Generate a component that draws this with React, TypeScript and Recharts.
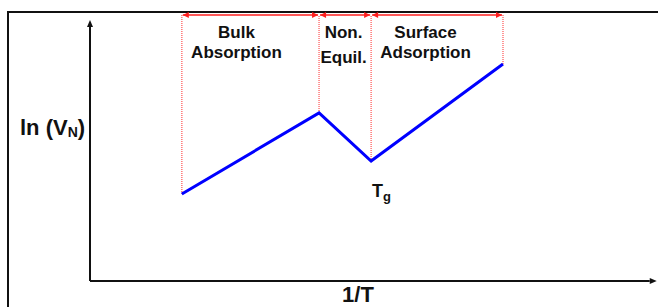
import React from "react";
import {
  ComposedChart, Line, XAxis, YAxis, ReferenceLine, ReferenceDot,
} from "recharts";

/* ─── Data ─────────────────────────────────── */
// 1/T positions of the break points, and ln(VN) at each
const invT = [16.4, 40.9, 50.2, 73.75];
const lnVN = [32.7, 63.2, 45.1, 81.6];

// region names between the break points (two lines each)
const regionTop = ["Bulk", "Non.", "Surface"];
const regionBottom = ["Absorption", "Equil.", "Adsorption"];

// axis arrow ends and height of the region arrows, in data units
const AXIS_X_END = 101.2;
const AXIS_Y_END = 98.1;
const REGION_Y = 100;

const points = invT.map((x, i) => ({ x, y: lnVN[i] }));

/* ─── Styles ───────────────────────────────── */
const FONT = "'Liberation Sans', Arial, sans-serif";
const RED = "#ff2020";
const RED_DOT = "#ff6a6a";
const LABEL_DX = [-14, -1.5, -11.5];
const LABEL_GAP = [20, 25, 20];

/* ─── Shapes ───────────────────────────────── */
type Seg = { x1?: number; y1?: number; x2?: number; y2?: number };

const AxisArrow = ({ x1 = 0, y1 = 0, x2 = 0, y2 = 0 }: Seg) => {
  const dx = x2 - x1, dy = y2 - y1;
  const len = Math.hypot(dx, dy) || 1;
  const ux = dx / len, uy = dy / len;
  const L = 7, W = 3;
  const bx = x2 - ux * L, by = y2 - uy * L;
  return (
    <g>
      <line x1={x1} y1={y1} x2={bx} y2={by} stroke="#111" strokeWidth={2} />
      <polygon
        points={`${x2},${y2} ${bx - uy * W},${by + ux * W} ${bx + uy * W},${by - ux * W}`}
        fill="#111"
      />
    </g>
  );
};

const RegionArrow = ({ x1 = 0, y1 = 0, x2 = 0, idx }: Seg & { idx: number }) => {
  const L = 6, W = 3;
  const cx = (x1 + x2) / 2 + LABEL_DX[idx];
  return (
    <g>
      <line x1={x1 + 1} y1={y1} x2={x2 - 1} y2={y1} stroke={RED} strokeWidth={1.5} />
      <polygon points={`${x1 + 1},${y1} ${x1 + 1 + L},${y1 - W} ${x1 + 1 + L},${y1 + W}`} fill={RED} />
      <polygon points={`${x2 - 1},${y1} ${x2 - 1 - L},${y1 - W} ${x2 - 1 - L},${y1 + W}`} fill={RED} />
      <text x={cx} y={y1 + 23} textAnchor="middle" fontFamily={FONT} fontWeight="bold" fontSize={17} fill="#111">
        {regionTop[idx]}
      </text>
      <text x={cx} y={y1 + 23 + LABEL_GAP[idx]} textAnchor="middle" fontFamily={FONT} fontWeight="bold" fontSize={17} fill="#111">
        {regionBottom[idx]}
      </text>
    </g>
  );
};

const TgLabel = ({ cx = 0, cy = 0 }: { cx?: number; cy?: number }) => (
  <text x={cx + 1} y={cy + 36} fontFamily={FONT} fontWeight="bold" fontSize={18} fill="#111">
    T<tspan fontSize={13} dy={4}>g</tspan>
  </text>
);

const YTitle = ({ viewBox }: any) => (
  <text x={viewBox.x + 20} y={viewBox.y + 120} fontFamily={FONT} fontWeight="bold" fontSize={22} fill="#111">
    ln (V<tspan fontSize={14} dy={2}>N</tspan><tspan dy={-2}>)</tspan>
  </text>
);

const XTitle = ({ viewBox }: any) => (
  <text x={viewBox.x + 268} y={viewBox.y + 21} textAnchor="middle" fontFamily={FONT} fontWeight="bold" fontSize={22} fill="#111">
    1/T
  </text>
);

/* ─── Chart ────────────────────────────────── */
export default function App() {
  return (
    <div style={{ position: "absolute", left: 0, top: 0, width: 658, height: 307, overflow: "hidden", background: "#fff" }}>
      <div style={{ position: "absolute", left: 7, top: 11, width: 700, height: 400, border: "2px solid #111" }} />
      <ComposedChart
        width={658}
        height={307}
        data={points}
        margin={{ top: 15, right: 8, left: 0, bottom: 0 }}
        style={{ position: "absolute", left: 0, top: 0 }}
      >
        <XAxis
          type="number" dataKey="x" domain={[0, 100]} height={26}
          tick={false} axisLine={false} tickLine={false}
          label={{ content: XTitle }}
        />
        <YAxis
          type="number" domain={[0, 100]} width={90}
          tick={false} axisLine={false} tickLine={false}
          label={{ content: YTitle }}
        />

        {/* axes with arrow heads */}
        <ReferenceLine segment={[{ x: 0, y: 0 }, { x: AXIS_X_END, y: 0 }]} ifOverflow="visible" shape={AxisArrow} />
        <ReferenceLine segment={[{ x: 0, y: 0 }, { x: 0, y: AXIS_Y_END }]} ifOverflow="visible" shape={AxisArrow} />

        {/* dotted guides up from each break point */}
        {invT.map((x, i) => (
          <ReferenceLine
            key={`v${i}`}
            segment={[{ x, y: lnVN[i] }, { x, y: REGION_Y }]}
            ifOverflow="visible"
            stroke={RED_DOT}
            strokeWidth={1.4}
            strokeDasharray="1 1"
          />
        ))}

        {/* region arrows with names */}
        {regionTop.map((_, i) => (
          <ReferenceLine
            key={`r${i}`}
            segment={[{ x: invT[i], y: REGION_Y }, { x: invT[i + 1], y: REGION_Y }]}
            ifOverflow="visible"
            shape={(p: Seg) => <RegionArrow {...p} idx={i} />}
          />
        ))}

        <Line
          type="linear" dataKey="y" stroke="#0000ff" strokeWidth={3}
          dot={false} activeDot={false} isAnimationActive={false}
        />

        <ReferenceDot x={invT[2]} y={lnVN[2]} r={0} ifOverflow="visible" shape={TgLabel} />
      </ComposedChart>
    </div>
  );
}
